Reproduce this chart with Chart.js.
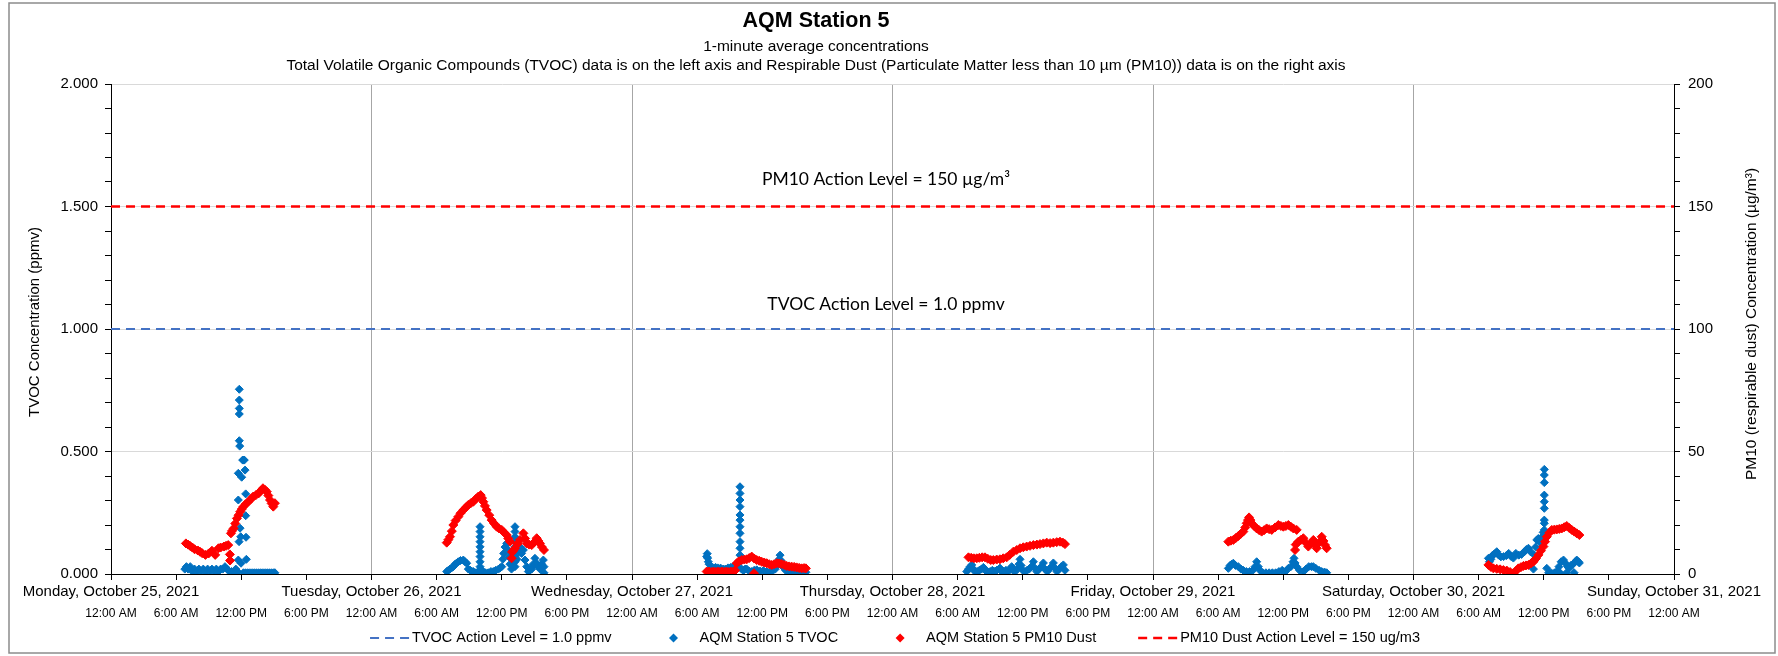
<!DOCTYPE html>
<html>
<head>
<meta charset="utf-8">
<title>AQM Station 5</title>
<script src="https://cdn.jsdelivr.net/npm/chart.js@4.4.1/dist/chart.umd.min.js"></script>
<style>
    html, body { margin: 0; padding: 0; background: #fff; }
    #wrap { width: 1778px; height: 656px; }
</style>
</head>
<body>
<div id="wrap"><canvas id="aqmChart" width="1778" height="656"></canvas></div>
<script>
(function(){
    'use strict';

    // axis labels
    var dayLabels = ['Monday, October 25, 2021', 'Tuesday, October 26, 2021', 'Wednesday, October 27, 2021',
        'Thursday, October 28, 2021', 'Friday, October 29, 2021', 'Saturday, October 30, 2021', 'Sunday, October 31, 2021'];
    var hourLabels = ['12:00 AM', '6:00 AM', '12:00 PM', '6:00 PM'];

    var tvocActionLevel = 1.0;   // ppmv
    var pm10ActionLevel = 150;   // ug/m3

    // readings: [hour of day, value]
    var tvocMon = [[6.8,0.02],[6.95,0.03],[7.1,0.02],[7.3,0.03],[7.5,0.01],[7.7,0.02],[7.9,0.01],[8.1,0.02],[8.3,0.01],[8.5,0.02],
        [8.7,0.01],[8.9,0.02],[9.1,0.01],[9.3,0.02],[9.5,0.01],[9.7,0.02],[9.9,0.01],[10.1,0.02],[10.3,0.02],[10.5,0.03],
        [10.7,0.02],[10.9,0.01],[11.1,0.01],[11.3,0.01],[11.5,0.02],[11.65,0.01],
        [11.73,0.411],[11.73,0.302],[11.73,0.057],[11.8,0.132],[11.82,0.754],[11.82,0.71],[11.82,0.676],[11.82,0.653],
        [11.82,0.544],[11.86,0.522],[11.89,0.187],[11.95,0.152],[11.98,0.044],[12.04,0.395],[12.13,0.465],[12.2,0.465],
        [12.28,0.465],[12.35,0.424],[12.41,0.327],[12.41,0.238],[12.44,0.15],[12.47,0.06],
        [12.2,0.005],[12.4,0.005],[12.6,0.005],[12.8,0.005],[13.0,0.005],[13.2,0.005],[13.4,0.005],[13.6,0.005],[13.8,0.005],
        [14.0,0.005],[14.2,0.005],[14.4,0.005],[14.6,0.005],[14.8,0.005],[15.0,0.005],[15.1,0.005]];
    var tvocTue = [[6.93,0.01],[7.08,0.015],[7.23,0.02],[7.38,0.025],[7.54,0.03],[7.7,0.04],[7.85,0.045],[8.0,0.05],[8.2,0.055],
        [8.46,0.057],[8.62,0.05],[8.77,0.044],[8.92,0.02],[9.1,0.015],[9.25,0.01],[9.38,0.01],[9.55,0.005],[9.69,0.005],[9.85,0.01],
        [10.0,0.193],[10.0,0.173],[10.0,0.152],[10.0,0.132],[10.0,0.111],[10.0,0.091],[10.0,0.071],[10.0,0.05],[10.0,0.03],
        [10.15,0.01],[10.3,0.01],[10.5,0.005],[10.76,0.005],[11.0,0.01],[11.22,0.01],[11.45,0.015],[11.7,0.02],[11.85,0.025],
        [12.0,0.03],[12.1,0.06],[12.18,0.084],[12.3,0.11],[12.46,0.125],[12.55,0.1],[12.65,0.07],[12.76,0.04],[12.9,0.02],[13.05,0.03],
        [13.22,0.193],[13.22,0.173],[13.22,0.152],[13.22,0.132],[13.22,0.111],[13.22,0.091],[13.22,0.071],[13.22,0.05],[13.22,0.03],
        [13.4,0.06],[13.55,0.09],[13.68,0.111],[13.83,0.084],[13.99,0.098],[14.14,0.057],[14.3,0.03],[14.45,0.01],[14.6,0.015],
        [14.76,0.02],[14.9,0.04],[15.06,0.064],[15.06,0.04],[15.22,0.044],[15.37,0.03],[15.52,0.02],[15.68,0.04],[15.83,0.057],
        [15.89,0.03],[15.89,0.005]];
    var tvocWed = [[6.88,0.071],[6.93,0.083],[6.97,0.065],[7.03,0.05],[7.1,0.04],[7.3,0.027],[7.5,0.025],[7.7,0.027],[7.9,0.025],
        [8.16,0.024],[8.4,0.02],[8.6,0.02],[8.85,0.025],[9.1,0.027],[9.3,0.03],[9.45,0.034],[9.6,0.03],[9.8,0.025],
        [9.95,0.356],[9.95,0.329],[9.95,0.302],[9.95,0.275],[9.95,0.241],[9.95,0.22],[9.95,0.193],[9.95,0.166],[9.95,0.132],
        [9.95,0.105],[9.95,0.077],[9.95,0.05],
        [10.1,0.02],[10.26,0.014],[10.42,0.02],[10.57,0.02],[10.8,0.012],[11.03,0.01],[11.26,0.015],[11.49,0.017],[11.8,0.012],
        [12.1,0.014],[12.4,0.01],[12.72,0.01],[13.0,0.015],[13.2,0.02],[13.45,0.04],[13.55,0.06],[13.64,0.077],[13.73,0.055],
        [13.85,0.035],[13.95,0.027],[14.15,0.015],[14.4,0.01],[14.63,0.012],[14.86,0.014],[15.1,0.01],[15.32,0.007],[15.55,0.01],
        [15.78,0.01],[16.02,0.007]];
    var tvocThu = [[6.84,0.01],[7.0,0.02],[7.15,0.03],[7.3,0.037],[7.45,0.02],[7.6,0.01],[7.8,0.01],[8.0,0.015],[8.2,0.02],
        [8.37,0.027],[8.55,0.015],[8.75,0.01],[9.0,0.01],[9.2,0.015],[9.4,0.01],[9.6,0.015],[9.8,0.02],[9.9,0.024],[10.05,0.01],
        [10.25,0.01],[10.45,0.015],[10.65,0.01],[10.85,0.02],[10.98,0.03],[11.1,0.015],[11.3,0.01],[11.5,0.02],[11.65,0.04],
        [11.75,0.06],[11.85,0.035],[12.0,0.015],[12.2,0.01],[12.4,0.015],[12.6,0.02],[12.8,0.03],[12.98,0.05],[13.1,0.025],
        [13.3,0.01],[13.5,0.02],[13.7,0.03],[13.9,0.045],[14.05,0.02],[14.25,0.01],[14.45,0.02],[14.65,0.03],[14.82,0.045],
        [14.95,0.025],[15.15,0.01],[15.35,0.02],[15.55,0.03],[15.74,0.037],[15.89,0.015]];
    var tvocFri = [[6.94,0.023],[7.1,0.035],[7.25,0.04],[7.4,0.044],[7.6,0.035],[7.86,0.03],[8.1,0.02],[8.32,0.015],[8.6,0.01],
        [8.9,0.01],[9.2,0.015],[9.4,0.03],[9.55,0.05],[9.7,0.03],[9.85,0.015],[10.1,0.005],[10.4,0.005],[10.7,0.005],[11.0,0.005],
        [11.3,0.005],[11.6,0.01],[11.9,0.015],[12.2,0.01],[12.47,0.023],[12.7,0.03],[12.9,0.05],[12.99,0.064],[13.09,0.045],
        [13.24,0.03],[13.5,0.015],[13.85,0.01],[14.1,0.02],[14.35,0.03],[14.6,0.03],[14.77,0.03],[15.0,0.023],[15.3,0.015],
        [15.54,0.01],[15.8,0.008],[16.0,0.005]];
    var tvocSat = [[6.9,0.064],[7.0,0.05],[7.13,0.06],[7.25,0.075],[7.4,0.08],[7.55,0.085],[7.67,0.091],[7.85,0.077],[8.05,0.07],
        [8.3,0.071],[8.55,0.075],[8.77,0.084],[9.0,0.071],[9.2,0.065],[9.43,0.084],[9.7,0.077],[9.95,0.08],[10.2,0.09],[10.4,0.1],
        [10.59,0.105],[10.8,0.09],[10.95,0.05],[11.05,0.02],[11.15,0.077],[11.25,0.11],[11.36,0.139],[11.5,0.145],[11.65,0.13],
        [11.8,0.15],[11.95,0.17],
        [12.05,0.427],[12.05,0.404],[12.05,0.373],[12.05,0.322],[12.05,0.295],[12.05,0.268],[12.05,0.22],[12.05,0.207],
        [12.05,0.18],[12.1,0.16],
        [12.28,0.023],[12.45,0.005],[12.6,0.003],[12.74,0.003],[13.0,0.005],[13.2,0.01],[13.4,0.03],[13.5,0.005],[13.6,0.05],
        [13.82,0.057],[14.0,0.044],[14.1,0.005],[14.2,0.03],[14.35,0.023],[14.5,0.035],[14.7,0.04],[14.8,0.005],[14.9,0.05],
        [15.04,0.057],[15.2,0.05],[15.28,0.045]];

    var pm10Mon = [[6.9,12.5],[7.1,12.0],[7.3,11.4],[7.5,10.8],[7.7,10.1],[8.0,9.6],[8.2,9.1],[8.4,8.5],[8.7,7.8],[9.0,8.4],
        [9.3,9.5],[9.6,7.8],[9.9,10.5],[10.1,10.8],[10.4,11.2],[10.6,11.5],[10.8,11.8],[10.95,8.0],[10.97,5.5],[11.05,16.6],
        [11.15,17.6],[11.3,18.6],[11.45,20.6],[11.6,22.7],[11.75,24.0],[11.9,25.4],[12.05,26.5],[12.2,27.5],[12.4,28.5],
        [12.65,29.5],[12.9,30.6],[13.1,31.6],[13.35,32.2],[13.6,32.9],[13.8,34.0],[14.0,35.0],[14.2,34.3],[14.35,33.6],
        [14.5,32.0],[14.65,30.2],[14.8,28.8],[14.95,27.5],[15.1,28.9]];
    var pm10Tue = [[6.93,12.8],[7.08,14.0],[7.23,15.2],[7.4,17.5],[7.54,20.0],[7.75,21.8],[8.0,23.4],[8.2,24.8],[8.46,26.1],
        [8.7,27.2],[8.92,28.2],[9.15,28.9],[9.38,29.5],[9.6,30.6],[9.84,31.6],[10.06,32.2],[10.18,31.0],[10.3,29.5],[10.45,27.8],
        [10.61,26.1],[10.85,24.0],[11.07,22.0],[11.3,20.6],[11.53,19.3],[11.75,18.6],[12.0,18.0],[12.2,17.0],[12.46,15.9],
        [12.6,14.5],[12.76,13.2],[12.91,6.4],[12.95,9.0],[13.07,9.5],[13.22,10.5],[13.45,12.2],[13.68,13.9],[13.99,16.6],
        [14.15,14.5],[14.3,12.5],[14.53,12.0],[14.76,11.8],[15.0,13.0],[15.22,14.6],[15.37,13.5],[15.52,12.5],[15.7,11.0],
        [15.89,9.8]];
    var pm10Wed = [[6.88,1.0],[7.1,1.0],[7.3,0.8],[7.5,1.0],[7.7,0.8],[7.9,1.0],[8.1,0.8],[8.3,1.0],[8.5,0.8],[8.7,1.0],
        [8.9,0.8],[9.1,1.0],[9.3,0.8],[9.5,1.5],[9.65,4.4],[9.85,5.2],[10.11,5.7],[10.35,5.9],[10.57,6.0],[10.8,6.5],[11.03,7.1],
        [11.24,0.3],[11.26,6.3],[11.49,5.7],[11.72,5.4],[11.95,5.0],[12.18,4.7],[12.41,4.4],[12.64,4.0],[12.87,3.7],[13.1,4.0],
        [13.33,4.4],[13.56,4.3],[13.79,4.1],[14.02,3.7],[14.25,3.3],[14.48,3.1],[14.71,3.0],[14.94,2.9],[15.17,2.7],[15.4,2.5],
        [15.63,2.3],[15.85,2.4],[16.02,2.3]];
    var pm10Thu = [[7.0,6.8],[7.25,6.6],[7.5,6.4],[7.76,6.4],[8.0,6.6],[8.26,6.8],[8.52,6.8],[8.78,6.2],[9.05,5.7],[9.29,5.7],
        [9.6,5.9],[9.9,6.0],[10.2,6.4],[10.52,6.8],[10.8,7.8],[11.13,9.1],[11.45,9.8],[11.75,10.5],[12.05,10.9],[12.36,11.2],
        [12.67,11.5],[12.98,11.8],[13.3,12.0],[13.59,12.2],[13.9,12.5],[14.21,12.8],[14.52,12.6],[14.82,12.8],[15.13,13.0],
        [15.43,13.2],[15.7,12.8],[15.89,12.2]];
    var pm10Fri = [[6.94,13.2],[7.17,13.6],[7.4,13.9],[7.63,14.7],[7.86,15.5],[8.09,16.4],[8.32,17.3],[8.5,19.0],[8.63,20.7],
        [8.75,22.0],[8.85,23.1],[8.97,22.0],[9.09,20.7],[9.32,19.6],[9.55,18.6],[9.78,17.9],[10.01,17.3],[10.24,17.9],[10.47,18.6],
        [10.7,18.3],[10.94,18.0],[11.25,19.0],[11.55,20.0],[11.78,19.6],[12.01,19.3],[12.24,19.6],[12.47,20.0],[12.7,19.3],
        [12.93,18.6],[13.09,9.8],[13.15,12.0],[13.24,18.0],[13.39,13.2],[13.62,13.9],[13.85,14.6],[14.08,12.8],[14.31,11.2],
        [14.54,12.5],[14.77,13.9],[14.92,12.0],[15.08,10.5],[15.3,12.8],[15.54,15.2],[15.7,13.5],[15.85,11.8],[16.0,10.5]];
    var pm10Sat = [[6.9,3.7],[7.13,2.9],[7.36,2.3],[7.67,2.1],[7.98,1.9],[8.28,1.6],[8.59,1.4],[8.9,0.8],[9.2,0.3],[9.43,1.2],
        [9.66,2.3],[9.9,2.8],[10.13,3.3],[10.36,3.5],[10.59,3.7],[10.82,4.3],[11.05,5.0],[11.28,6.3],[11.51,7.8],[11.74,9.5],
        [11.97,11.2],[12.12,13.2],[12.28,15.2],[12.51,16.8],[12.74,18.0],[12.97,18.1],[13.2,18.2],[13.43,18.4],[13.66,18.6],
        [13.89,19.1],[14.12,19.6],[14.35,18.8],[14.58,18.0],[14.81,17.3],[15.04,16.6],[15.28,15.9]];

    var tvocDays = [tvocMon, tvocTue, tvocWed, tvocThu, tvocFri, tvocSat];
    var pm10Days = [pm10Mon, pm10Tue, pm10Wed, pm10Thu, pm10Fri, pm10Sat];

    // hours since Monday 12:00 AM
    function toPoints(days){
        var out = [];
        days.forEach(function(day, d){
            day.forEach(function(p){
                out.push({x: d * 24 + p[0], y: p[1]});
            });
        });
        return out;
    }

    function isMultiple(v, step){
        var r = v / step;
        return Math.abs(r - Math.round(r)) < 1e-6;
    }

    var FONT = "'Liberation Sans', Arial, sans-serif";
    Chart.defaults.font.family = FONT;
    Chart.defaults.color = '#000';

    function verticalText(ctx, text, x, y){
        ctx.save();
        ctx.translate(x, y);
        ctx.rotate(-Math.PI / 2);
        ctx.fillText(text, 0, 0);
        ctx.restore();
    }

    // frame, headings, axis titles, action level notes and legend
    var chartText = {
        id: 'chartText',
        beforeDraw: function(chart){
            var ctx = chart.ctx;
            ctx.save();
            ctx.fillStyle = '#fff';
            ctx.fillRect(0, 0, chart.width, chart.height);
            ctx.strokeStyle = '#8c8c8c';
            ctx.lineWidth = 1.5;
            ctx.strokeRect(9, 3, chart.width - 12, chart.height - 6);
            ctx.restore();
        },
        afterDraw: function(chart){
            var ctx = chart.ctx;
            var xs = chart.scales.x, yl = chart.scales.y, yr = chart.scales.y2;
            ctx.save();
            ctx.fillStyle = '#000';
            ctx.textAlign = 'center';
            ctx.textBaseline = 'middle';

            ctx.font = 'bold 21.5px ' + FONT;
            ctx.fillText('AQM Station 5', 816, 21);
            ctx.font = '15.5px ' + FONT;
            ctx.fillText('1-minute average concentrations', 816, 47);
            ctx.fillText('Total Volatile Organic Compounds (TVOC) data is on the left axis and Respirable Dust (Particulate Matter less than 10 \u00b5m (PM10)) data is on the right axis', 816, 66);

            ctx.font = "17.5px Lato, 'Open Sans', sans-serif";
            var midX = xs.getPixelForValue(71.4);
            ctx.fillText('PM10 Action Level = 150 \u00b5g/m\u00b3', midX, yr.getPixelForValue(pm10ActionLevel) - 27);
            ctx.fillText('TVOC Action Level = 1.0 ppmv', midX, yl.getPixelForValue(tvocActionLevel) - 25);

            // axis titles, reading bottom to top
            ctx.font = '15px ' + FONT;
            verticalText(ctx, 'TVOC Concentration (ppmv)', 35, 322);
            ctx.font = '15.5px ' + FONT;
            verticalText(ctx, 'PM10 (respirable dust) Concentration (\u00b5g/m\u00b3)', 1752, 324);

            // legend
            ctx.font = '14.5px ' + FONT;
            var gap = 42;
            var items = chart.data.datasets.map(function(d){
                var line = d.type === 'line';
                return { d: d, line: line, sw: line ? 42 : 46, tw: ctx.measureText(d.label).width };
            });
            var total = items.reduce(function(s, it){ return s + it.sw + it.tw; }, 0) + gap * (items.length - 1);
            var lx = 895 - total / 2, ly = 638;
            ctx.textAlign = 'left';
            items.forEach(function(it){
                ctx.save();
                if (it.line) {
                    ctx.strokeStyle = it.d.borderColor;
                    ctx.lineWidth = it.d.borderWidth;
                    ctx.setLineDash(it.d.borderDash);
                    ctx.beginPath();
                    ctx.moveTo(lx, ly);
                    ctx.lineTo(lx + 39, ly);
                    ctx.stroke();
                } else {
                    var cx = lx + 20, r = 4.5;
                    ctx.fillStyle = it.d.backgroundColor;
                    ctx.beginPath();
                    ctx.moveTo(cx, ly - r);
                    ctx.lineTo(cx + r, ly);
                    ctx.lineTo(cx, ly + r);
                    ctx.lineTo(cx - r, ly);
                    ctx.closePath();
                    ctx.fill();
                }
                ctx.restore();
                ctx.fillText(it.d.label, lx + it.sw, ly);
                lx += it.sw + it.tw + gap;
            });
            ctx.restore();
        }
    };

    var ctx = document.getElementById('aqmChart').getContext('2d');
    var chart = new Chart(ctx, {
        type: 'scatter',
        data: {
            datasets: [{
                type: 'line',
                label: 'TVOC Action Level = 1.0 ppmv',
                data: [{x: 0, y: tvocActionLevel}, {x: 144, y: tvocActionLevel}],
                yAxisID: 'y',
                borderColor: '#4472C4',
                backgroundColor: 'rgba(0,0,0,0)',
                borderWidth: 2,
                borderDash: [9, 6],
                pointRadius: 0,
                order: 2
            }, {
                label: 'AQM Station 5 TVOC',
                data: toPoints(tvocDays),
                yAxisID: 'y',
                pointStyle: 'rectRot',
                pointRadius: 4,
                backgroundColor: '#0070C0',
                borderColor: '#0070C0',
                borderWidth: 1,
                order: 1
            }, {
                label: 'AQM Station 5 PM10 Dust',
                data: toPoints(pm10Days),
                yAxisID: 'y2',
                pointStyle: 'rectRot',
                pointRadius: 4.5,
                backgroundColor: '#FF0000',
                borderColor: '#FF0000',
                borderWidth: 1,
                order: 0
            }, {
                type: 'line',
                label: 'PM10 Dust Action Level = 150 ug/m3',
                data: [{x: 0, y: pm10ActionLevel}, {x: 144, y: pm10ActionLevel}],
                yAxisID: 'y2',
                borderColor: '#FF0000',
                backgroundColor: 'rgba(0,0,0,0)',
                borderWidth: 2.5,
                borderDash: [9, 6],
                pointRadius: 0,
                order: 3
            }]
        },
        options: {
            responsive: false,
            animation: false,
            layout: { padding: { top: 84, bottom: 36, left: 0, right: 0 } },
            plugins: {
                title: { display: false },
                tooltip: { enabled: false },
                legend: { display: false }
            },
            scales: {
                x: {
                    type: 'linear',
                    position: 'bottom',
                    weight: 0,
                    min: 0,
                    max: 144,
                    grid: {
                        color: function(c){ return c.tick && isMultiple(c.tick.value, 24) ? '#a6a6a6' : 'rgba(0,0,0,0)'; },
                        tickColor: '#000',
                        tickLength: 6
                    },
                    border: { color: '#000', width: 1 },
                    ticks: {
                        stepSize: 6,
                        maxTicksLimit: 30,
                        autoSkip: false,
                        maxRotation: 0,
                        minRotation: 0,
                        padding: 3,
                        font: { size: 15 },
                        callback: function(v){ return isMultiple(v, 24) ? dayLabels[Math.round(v / 24)] : ''; }
                    },
                    afterFit: function(s){ s.height = 26; }
                },
                xh: {
                    type: 'linear',
                    position: 'bottom',
                    weight: 1,
                    min: 0,
                    max: 144,
                    grid: { display: false, drawTicks: false },
                    border: { display: false },
                    ticks: {
                        stepSize: 6,
                        maxTicksLimit: 30,
                        autoSkip: false,
                        maxRotation: 0,
                        minRotation: 0,
                        padding: 6,
                        font: { size: 12 },
                        callback: function(v){ return hourLabels[Math.round(v / 6) % 4]; }
                    },
                    afterFit: function(s){ s.height = 20; }
                },
                y: {
                    type: 'linear',
                    position: 'left',
                    min: 0,
                    max: 2,
                    grid: {
                        color: function(c){ return c.tick && isMultiple(c.tick.value, 0.5) ? '#d9d9d9' : 'rgba(0,0,0,0)'; },
                        tickColor: '#000',
                        tickLength: 6
                    },
                    border: { color: '#000', width: 1 },
                    ticks: {
                        stepSize: 0.1,
                        maxTicksLimit: 25,
                        autoSkip: false,
                        padding: 7,
                        font: { size: 15 },
                        callback: function(v){ return isMultiple(v, 0.5) ? v.toFixed(3) : ''; }
                    },
                    afterFit: function(s){ s.width = 111; }
                },
                y2: {
                    type: 'linear',
                    position: 'right',
                    min: 0,
                    max: 200,
                    grid: {
                        drawOnChartArea: false,
                        tickColor: '#000',
                        tickLength: 6
                    },
                    border: { color: '#000', width: 1 },
                    ticks: {
                        stepSize: 10,
                        maxTicksLimit: 25,
                        autoSkip: false,
                        padding: 8,
                        font: { size: 15 },
                        callback: function(v){ return isMultiple(v, 50) ? String(Math.round(v)) : ''; }
                    },
                    afterFit: function(s){ s.width = 104; }
                }
            }
        },
        plugins: [chartText]
    });

}());
</script>
</body>
</html>
